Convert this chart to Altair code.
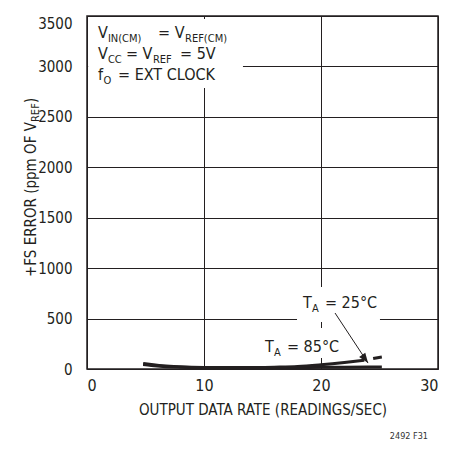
import altair as alt
import pandas as pd

# ---- data ----
rate_25 = [4.8, 5.5, 6.5, 8, 10, 13, 16, 18, 20, 22, 23.7]
err_25 = [55, 45, 32, 22, 16, 14, 18, 24, 42, 65, 88]
rate_25_ext = [23.7, 25.2]
err_25_ext = [88, 118]
rate_85 = [4.8, 5.5, 6.5, 8, 10, 13, 16, 19, 22, 25.2]
err_85 = [45, 35, 25, 18, 14, 12, 14, 16, 18, 20]
x_ticks = [0, 10, 20, 30]
y_ticks = [0, 500, 1000, 1500, 2000, 2500, 3000, 3500]

FONT = "DejaVu Sans Condensed, Roboto"
INK = "#231f20"

df25 = pd.DataFrame({"x": rate_25, "y": err_25})
df25e = pd.DataFrame({"x": rate_25_ext, "y": err_25_ext})
df85 = pd.DataFrame({"x": rate_85, "y": err_85})

# annotation text pieces (main text and subscripts)
ann_x = [0.94, 1.79, 6.07, 8.38,
         0.94, 1.79, 3.33, 5.64, 7.95,
         0.94, 1.41, 2.65,
         18.46, 19.23, 20.34,
         15.21, 15.98, 17.09]
ann_y = [3282, 3282, 3282, 3282,
         3074, 3074, 3074, 3074, 3074,
         2870, 2870, 2870,
         605, 605, 605,
         169, 169, 169]
ann_text = ["V", "IN(CM)", "= V", "REF(CM)",
            "V", "CC", "= V", "REF", "= 5V",
            "f", "O", "= EXT CLOCK",
            "T", "A", "= 25°C",
            "T", "A", "= 85°C"]
ann_sub = [0, 1, 0, 1,
           0, 1, 0, 1, 0,
           0, 1, 0,
           0, 1, 0,
           0, 1, 0]
ann = pd.DataFrame({"x": ann_x, "y": ann_y, "t": ann_text, "sub": ann_sub})

# white boxes behind the labels (hide the grid there)
box_x = [0.1, 17.95, 14.96]
box_x2 = [13.33, 25.04, 21.45]
box_y = [3470, 813, 406]
box_y2 = [2786, 466, 109]
boxes = pd.DataFrame({"x": box_x, "x2": box_x2, "y": box_y, "y2": box_y2})

arrow = pd.DataFrame({"x": [21.2], "y": [555], "x2": [24.02], "y2": [59]})
one = pd.DataFrame({"k": [0]})

xs = alt.Scale(domain=[0, 30], nice=False)
ys = alt.Scale(domain=[0, 3500], nice=False)

xaxis = alt.Axis(values=x_ticks, title="OUTPUT DATA RATE (READINGS/SEC)", grid=True,
                 gridColor=INK, gridWidth=1, gridOpacity=1, domain=False, ticks=False,
                 format="d", labelFontSize=16, labelColor=INK, labelPadding=8,
                 titleFontSize=15, titleFontWeight="normal", titleColor=INK, titlePadding=9)
yaxis = alt.Axis(values=y_ticks, title=None, grid=True, format="d",
                 gridColor=INK, gridWidth=1, gridOpacity=1, domain=False, ticks=False,
                 labelFontSize=15, labelColor=INK, labelPadding=15,
                 labelBaseline=alt.expr("datum.value == 3500 ? 'top' : 'middle'"))


def X(f="x"):
    return alt.X(f"{f}:Q", scale=xs, axis=xaxis)


def Y(f="y"):
    return alt.Y(f"{f}:Q", scale=ys, axis=yaxis)


rects = alt.Chart(boxes).mark_rect(fill="white", stroke=None).encode(
    x=X(), x2="x2:Q", y=Y(), y2="y2:Q")

l85 = alt.Chart(df85).mark_line(color=INK, strokeWidth=3, interpolate="monotone").encode(x=X(), y=Y())
l25 = alt.Chart(df25).mark_line(color=INK, strokeWidth=3, interpolate="monotone").encode(x=X(), y=Y())
l25e = alt.Chart(df25e).mark_line(color=INK, strokeWidth=3, strokeDash=[10, 9],
                                   strokeDashOffset=10).encode(x=X(), y=Y())

arrow_line = alt.Chart(arrow).mark_rule(color=INK, strokeWidth=1).encode(
    x=X(), y=Y(), x2="x2:Q", y2="y2:Q")
arrow_head = alt.Chart(arrow).mark_point(
    shape="M0,0L-0.45,1.2L0.45,1.2Z", filled=True, fill=INK, stroke=None,
    size=280, angle=144.5, opacity=1).encode(x=X("x2"), y=Y("y2"))

txt_main = alt.Chart(ann).transform_filter("datum.sub == 0").mark_text(
    align="left", baseline="alphabetic", fontSize=16, color=INK).encode(
    x=X(), y=Y(), text="t:N")
txt_sub = alt.Chart(ann).transform_filter("datum.sub == 1").mark_text(
    align="left", baseline="alphabetic", fontSize=11, dy=4, color=INK).encode(
    x=X(), y=Y(), text="t:N")

# rotated y-axis title with subscript
yt1 = alt.Chart(one).mark_text(text="+FS ERROR (ppm OF V", angle=270, align="left",
                               baseline="alphabetic", fontSize=15, color=INK).encode(
    x=alt.value(-51), y=alt.value(261))
yt2 = alt.Chart(one).mark_text(text="REF", angle=270, align="left",
                               baseline="alphabetic", fontSize=11, dy=3, color=INK).encode(
    x=alt.value(-51), y=alt.value(106))
yt3 = alt.Chart(one).mark_text(text=")", angle=270, align="left",
                               baseline="alphabetic", fontSize=15, color=INK).encode(
    x=alt.value(-51), y=alt.value(87))
code = alt.Chart(one).mark_text(text="2492 F31", align="right", baseline="alphabetic",
                                fontSize=9, color="#333333").encode(
    x=alt.value(341), y=alt.value(423))

chart = alt.layer(rects, l85, l25, l25e, arrow_line, arrow_head, txt_main, txt_sub,
                  yt1, yt2, yt3, code).properties(
    width=351, height=353,
    autosize=alt.AutoSizeParams(type="none"),
    padding={"left": 79, "top": 8, "right": 3, "bottom": 72},
).configure(font=FONT).configure_view(stroke=INK, strokeWidth=1.5)

chart.save("out.html", embed_options={"renderer": "svg", "actions": False})
